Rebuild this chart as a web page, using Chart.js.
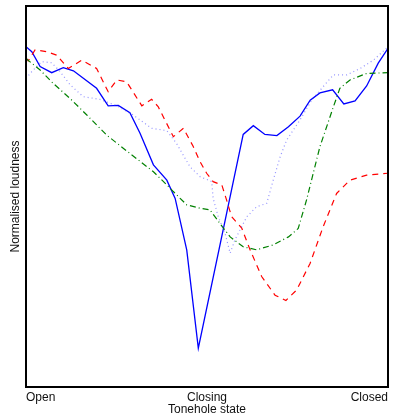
<!DOCTYPE html>
<html>
<head>
<meta charset="utf-8">
<script src="https://cdn.jsdelivr.net/npm/chart.js@4/dist/chart.umd.min.js"></script>
<style>
  html, body { margin: 0; padding: 0; background: #fff; }
  #wrap { width: 398px; height: 418px; }
</style>
</head>
<body>
<div id="wrap"><canvas id="graph"></canvas></div>
<script>
"use strict";
// tonehole position 0 (open) .. 100 (closed), loudness 0..100 (normalised)
const TICK_POS = [0, 50, 100];
const TICK_LABELS = ["Open", "Closing", "Closed"];

const SOLID_X = [0, 1.6, 3.9, 7.1, 10.3, 13.1, 19.5, 22.7, 25.5, 28.7, 31.5, 35.2, 38.9, 41.2, 44.4, 47.6,
    60.0, 62.8, 66.0, 69.3, 72.5, 75.7, 78.5, 81.2, 84.7, 87.8, 90.9, 94.1, 97.3, 100];
const SOLID_Y = [89.3, 88.0, 84.1, 82.5, 83.8, 83.0, 78.4, 73.8, 73.9, 72.0, 66.6, 58.3, 54.3, 49.5, 36.0, 10.2,
    66.3, 68.6, 66.3, 66.0, 68.3, 71.1, 75.3, 77.2, 78.0, 74.3, 75.1, 79.0, 85.0, 88.9];

const DASHED_X = [0, 0.6, 2.5, 5.7, 8.5, 11.7, 15.4, 19.5, 22.7, 25.1, 27.8, 32.0, 34.7, 36.5, 40.7, 43.5, 46.2,
    48.1, 49.9, 51.7, 54.1, 55.4, 56.8, 59.6, 61.9, 65.1, 68.8, 71.8, 74.8, 78.5, 82.1, 85.8, 89.5, 94.1, 100];
const DASHED_Y = [86.4, 85.6, 88.5, 88.0, 87.1, 83.6, 85.8, 83.6, 77.5, 80.6, 80.1, 73.8, 75.5, 73.6, 65.7, 67.9, 63.1,
    59.1, 56.1, 53.9, 53.0, 49.1, 44.7, 41.7, 36.0, 29.0, 24.1, 22.7, 25.5, 32.5, 42.1, 50.8, 54.3, 55.6, 56.1];

const DASHDOT_X = [0, 3.9, 7.5, 12.2, 16.8, 22.3, 28.7, 35.2, 39.8, 40.7, 44.4, 48.1, 50.8, 53.6, 56.4, 60.0,
    63.7, 68.3, 72.5, 75.2, 77.5, 81.2, 84.9, 86.7, 89.5, 94.1, 100];
const DASHDOT_Y = [86.2, 83.2, 79.7, 75.7, 71.4, 66.1, 61.3, 56.5, 52.2, 51.3, 47.8, 46.9, 46.5, 42.9, 39.4, 36.8,
    36.0, 37.3, 39.4, 41.6, 49.1, 63.1, 73.5, 78.4, 80.6, 82.3, 82.5];

const DOTTED_X = [0, 1.6, 4.3, 7.1, 9.4, 12.2, 15.8, 20.4, 25.1, 29.6, 34.7, 38.9, 41.6, 45.3, 48.1, 50.4, 51.3,
    51.7, 53.1, 55.0, 56.4, 57.7, 61.0, 63.7, 66.5, 68.3, 70.2, 72.0, 75.7, 78.9, 81.7, 84.9, 88.6, 92.3, 96.0, 100];
const DOTTED_Y = [81.0, 82.8, 85.4, 85.1, 82.8, 79.3, 76.2, 75.5, 73.8, 71.4, 67.9, 67.3, 63.9, 57.8, 55.2, 54.3, 53.9,
    49.5, 44.7, 40.3, 35.1, 38.6, 44.7, 47.3, 48.2, 54.3, 60.4, 64.8, 70.1, 75.3, 78.4, 81.9, 81.9, 83.6, 85.8, 89.3];

function pts(xs, ys) {
    return xs.map(function (x, i) {
        return { x: x, y: ys[i] };
    });
}

// black box round the plot area
const frame = {
    id: "frame",
    afterDraw(chart) {
        const a = chart.chartArea;
        const ctx = chart.ctx;
        ctx.save();
        ctx.strokeStyle = "#000";
        ctx.lineWidth = 2;
        ctx.strokeRect(a.left, a.top, a.right - a.left, a.bottom - a.top);
        ctx.restore();
    },
};

Chart.defaults.font.family = "'Liberation Sans', Arial, sans-serif";
Chart.defaults.font.size = 12;
Chart.defaults.color = "#111";

function drawGraph() {
    const line = { pointRadius: 0, tension: 0, fill: false };
    const data = {
        datasets: [
            Object.assign({ label: "dotted", data: pts(DOTTED_X, DOTTED_Y), borderColor: "rgba(60,60,255,0.55)",
                borderWidth: 1.2, borderDash: [1, 3] }, line),
            Object.assign({ label: "dashdot", data: pts(DASHDOT_X, DASHDOT_Y), borderColor: "#008000",
                borderWidth: 1.2, borderDash: [6, 3, 1, 3] }, line),
            Object.assign({ label: "dashed", data: pts(DASHED_X, DASHED_Y), borderColor: "#ff0000",
                borderWidth: 1.2, borderDash: [6, 5] }, line),
            Object.assign({ label: "solid", data: pts(SOLID_X, SOLID_Y), borderColor: "#0000ff",
                borderWidth: 1.3 }, line),
        ],
    };
    const config = {
        type: "line",
        data,
        options: {
            animation: false,
            responsive: true,
            maintainAspectRatio: false,
            layout: { padding: { top: 6, right: 10, left: 0, bottom: 0 } },
            plugins: { legend: { display: false }, tooltip: { enabled: false } },
            scales: {
                x: {
                    type: "linear",
                    min: 0,
                    max: 100,
                    grid: { display: false, drawTicks: false },
                    border: { display: false },
                    afterBuildTicks(scale) {
                        scale.ticks = TICK_POS.map(function (v) { return { value: v }; });
                    },
                    afterFit(scale) { scale.height = 31; },
                    ticks: {
                        align: "inner",
                        autoSkip: false,
                        maxRotation: 0,
                        padding: 3,
                        callback: function (v) {
                            return TICK_LABELS[TICK_POS.indexOf(v)];
                        },
                    },
                    title: { display: true, text: "Tonehole state", padding: { top: 0, bottom: 1 } },
                },
                y: {
                    min: 0,
                    max: 100,
                    grid: { display: false, drawTicks: false },
                    border: { display: false },
                    ticks: { display: false },
                    afterFit(scale) { scale.width = 26; },
                    title: { display: true, text: "Normalised loudness", padding: { top: 8, bottom: 4 } },
                },
            },
        },
        plugins: [frame],
    };
    new Chart(document.getElementById("graph"), config);
}

drawGraph();
</script>
</body>
</html>
